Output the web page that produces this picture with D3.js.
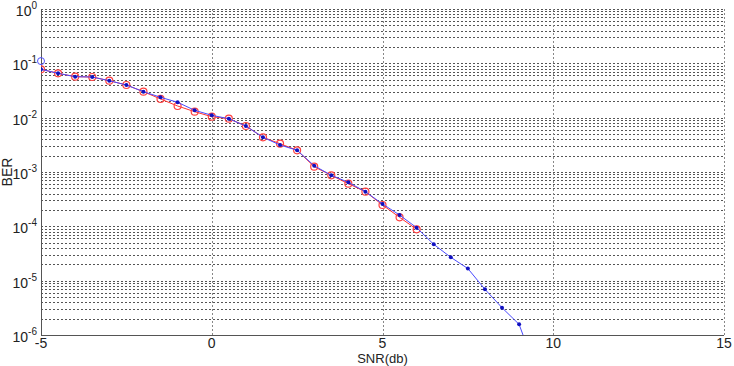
<!DOCTYPE html>
<html>
<head>
<meta charset="utf-8">
<script src="https://cdn.jsdelivr.net/npm/d3@7"></script>
<style>
body{margin:0;background:#fff;}
text{font-family:"Liberation Sans",Arial,sans-serif;fill:#222;}
</style>
</head>
<body>
<div class="plot"></div>
<script>
// data
var snrBlue = [-5,-4.5,-4,-3.5,-3,-2.5,-2,-1.5,-1,-0.5,0,0.5,1,1.5,2,2.5,3,3.5,4,4.5,5,5.5,6,6.5,7,7.5,8,8.5,9,9.5];
var berBlue = [0.0776,0.0655,0.0568,0.0560,0.0479,0.0399,0.0301,0.0237,0.0192,0.01366,0.01105,0.00957,0.00702,0.00435,0.00314,0.00251,0.001305,0.000869,0.000646,0.000434,0.000258,0.0001616,0.0000943,0.0000467,0.0000269,0.0000167,0.00000693,0.00000318,0.00000157,0.00000022];
var snrRed = [-5,-4.5,-4,-3.5,-3,-2.5,-2,-1.5,-1,-0.5,0,0.5,1,1.5,2,2.5,3,3.5,4,4.5,5,5.5,6];
var berRed = [0.0776,0.0655,0.0568,0.0560,0.0479,0.0399,0.0301,0.0221,0.0164,0.01288,0.01042,0.00957,0.00702,0.00435,0.00332,0.00251,0.001251,0.000869,0.000609,0.000434,0.000247,0.0001466,0.0000881];
var snrOne = [-5];
var berOne = [0.110];
var xTicks = [-5,0,5,10,15];
var yExps = [0,-1,-2,-3,-4,-5,-6];

var m = {t:9,r:10,b:31,l:41},
    W = 734, H = 366,
    w = W - m.l - m.r,
    h = H - m.t - m.b;

var svg = d3.select('.plot').append('svg')
    .attr('width',W)
    .attr('height',H);

svg.append('defs').append('clipPath').attr('id','clip')
    .append('rect').attr('width',w).attr('height',h);

var plot = svg.append('g')
    .attr('transform','translate('+m.l+','+m.t+')');

var x = d3.scaleLinear().domain([-5,15]).range([0,w]);
var y = d3.scaleLog().domain([1e-6,1]).range([h,0]);

// horizontal grid (major + minor decades)
var gridVals = [];
yExps.forEach(function(e){
    gridVals.push(Math.pow(10,e));
    if(e > -6){
        for(var j=2;j<=9;j++) gridVals.push(j*Math.pow(10,e-1));
    }
});
plot.selectAll('.hgrid')
    .data(gridVals)
    .enter()
    .append('line')
    .attr('class','hgrid')
    .attr('x1',0).attr('x2',w)
    .attr('y1',function(d){return Math.round(y(d))+0.5})
    .attr('y2',function(d){return Math.round(y(d))+0.5})
    .attr('stroke','#555')
    .attr('stroke-width',1)
    .attr('stroke-dasharray','2,2');

plot.selectAll('.vgrid')
    .data(xTicks.slice(1))
    .enter()
    .append('line')
    .attr('class','vgrid')
    .attr('x1',function(d){return Math.round(x(d))+0.5})
    .attr('x2',function(d){return Math.round(x(d))+0.5})
    .attr('y1',0).attr('y2',h)
    .attr('stroke','#888')
    .attr('stroke-width',1)
    .attr('stroke-dasharray','2,2');

// axis lines
plot.append('line').attr('x1',0.5).attr('x2',0.5).attr('y1',0).attr('y2',h)
    .attr('stroke','#555');
plot.append('line').attr('x1',0).attr('x2',w).attr('y1',h+0.5).attr('y2',h+0.5)
    .attr('stroke','#555');

// tick labels
plot.selectAll('.xlab')
    .data(xTicks)
    .enter()
    .append('text')
    .attr('class','xlab')
    .attr('x',function(d){return x(d)})
    .attr('y',h+13)
    .attr('text-anchor','middle')
    .style('font-size','14px')
    .text(function(d){return d});

var ylab = plot.selectAll('.ylab')
    .data(yExps)
    .enter()
    .append('text')
    .attr('class','ylab')
    .attr('x',-4)
    .attr('y',function(d){return y(Math.pow(10,d))+7})
    .attr('text-anchor','end')
    .style('font-size','14px');
ylab.append('tspan').text('10');
ylab.append('tspan').attr('dy',-7).style('font-size','10px').text(function(d){return d});

// axis titles
svg.append('text')
    .attr('x',m.l + w/2)
    .attr('y',H-3)
    .attr('text-anchor','middle')
    .style('font-size','13px')
    .text('SNR(db)');
svg.append('text')
    .attr('transform','translate(12,'+(m.t+h/2)+') rotate(-90)')
    .attr('text-anchor','middle')
    .style('font-size','14px')
    .text('BER');

// series
var line = function(xs){
    return d3.line()
        .x(function(d,i){return x(xs[i])})
        .y(function(d){return y(d)});
};
var series = plot.append('g').attr('clip-path','url(#clip)');

series.append('path')
    .attr('d',line(snrRed)(berRed))
    .attr('fill','none')
    .attr('stroke','#ff3030')
    .attr('stroke-width',1);
series.selectAll('.red')
    .data(berRed)
    .enter()
    .append('circle')
    .attr('class','red')
    .attr('cx',function(d,i){return x(snrRed[i])})
    .attr('cy',function(d){return y(d)})
    .attr('r',3.5)
    .attr('fill','none')
    .attr('stroke','#ff4040')
    .attr('stroke-width',1.2);

series.append('path')
    .attr('d',line(snrBlue)(berBlue))
    .attr('fill','none')
    .attr('stroke','#4a4aff')
    .attr('stroke-width',1);
series.selectAll('.blue')
    .data(berBlue)
    .enter()
    .append('circle')
    .attr('class','blue')
    .attr('cx',function(d,i){return x(snrBlue[i])})
    .attr('cy',function(d){return y(d)})
    .attr('r',2)
    .attr('fill','#1010c0');

plot.selectAll('.one')
    .data(berOne)
    .enter()
    .append('circle')
    .attr('class','one')
    .attr('cx',function(d,i){return x(snrOne[i])})
    .attr('cy',function(d){return y(d)})
    .attr('r',3.5)
    .attr('fill','none')
    .attr('stroke','#5050ff')
    .attr('stroke-width',1);
</script>
</body>
</html>
